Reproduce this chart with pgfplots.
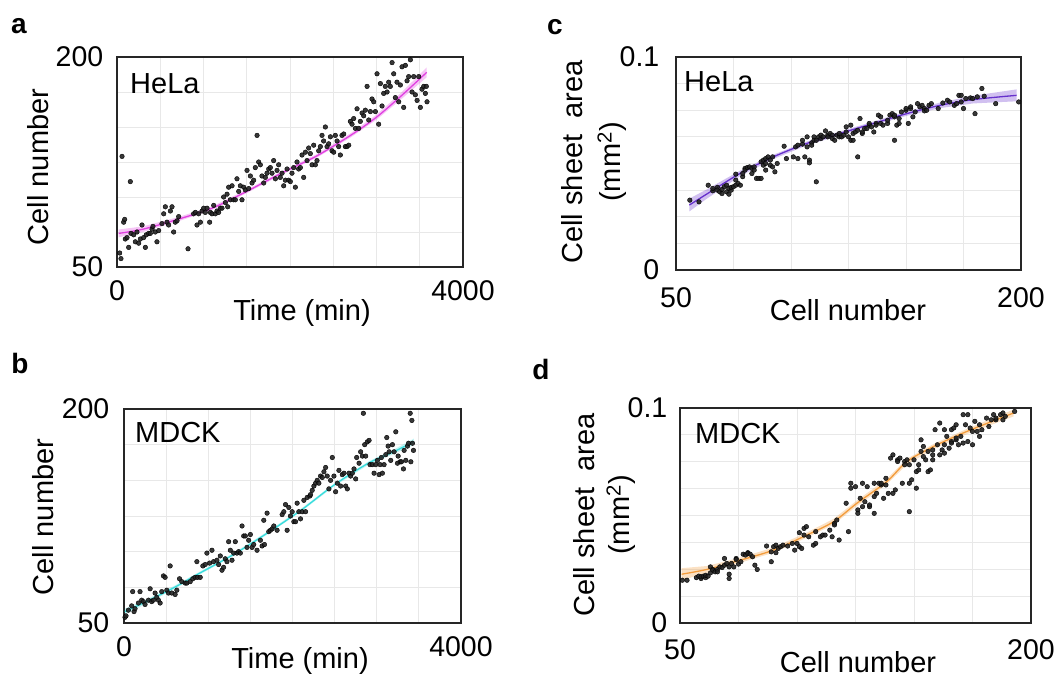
\documentclass[border=0pt]{standalone}
\usepackage{fontspec}
\setmainfont{Liberation Sans}
\usepackage{pgfplots}
\pgfplotsset{compat=1.18}

\definecolor{gridgray}{HTML}{E8E8E8}
\definecolor{dotgray}{HTML}{222222}
\definecolor{helaA}{HTML}{E040E0}
\definecolor{mdckB}{HTML}{38DCDC}
\definecolor{helaC}{HTML}{6630CC}
\definecolor{mdckD}{HTML}{F39C3C}

\newcommand\lbl{\fontsize{29bp}{35bp}\selectfont}

\pgfplotsset{
  panel/.style={
    scale only axis,
    anchor=south west,
    axis line style={line width=1.4bp, black!85},
    major tick length=0pt,
    minor tick length=0pt,
    grid=minor,
    minor grid style={line width=0.8bp, draw=gridgray},
    ticklabel style={font=\fontsize{28.5bp}{34bp}\selectfont, text=black, inner sep=0pt},
  },
  dots/.style={only marks, mark=*, mark size=2.3bp,
    mark options={draw=none, fill=dotgray, fill opacity=0.9}},
  band/.style={draw=none, fill=#1, fill opacity=0.3},
  fit/.style={smooth, line width=1.3bp, draw=#1},
}

\begin{document}
\begin{tikzpicture}
\path[use as bounding box] (0bp,0bp) rectangle (1058bp,678bp);

% ---- a: HeLa, cell number over time
\begin{axis}[panel, at={(117bp,411bp)}, width=346bp, height=210bp,
  xmin=0, xmax=4000, ymin=50, ymax=200,
  xtick={0,4000}, xticklabels={0,4000},
  ytick={50,200}, yticklabels={50,200},
  minor xtick={500,1000,...,3500}, minor ytick={75,100,...,175},
  xticklabel style={yshift=-13.5bp}, yticklabel style={xshift=-13.5bp}]
\addplot[dots] coordinates {
(31,60) (46,56) (58,129) (77,82) (89,84) (154,111) (96,70) (116,71) (135,64) (162,74)
(193,73) (212,68) (231,75) (251,67) (270,70) (289,80) (308,71) (328,64) (339,73) (366,74)
(385,74) (405,77) (416,79) (443,75) (462,68) (482,76) (520,81) (540,88) (559,93) (578,82)
(597,80) (617,90) (636,93) (655,75) (674,82) (694,83) (713,86) (821,63) (886,88) (906,89)
(925,80) (944,88) (964,82) (983,90) (1002,92) (1021,89) (1041,92) (1071,82) (1079,89) (1098,88)
(1118,94) (1137,88) (1156,90) (1175,89) (1195,92) (1214,92) (1233,100) (1253,96) (1272,102) (1280,93)
(1291,107) (1310,98) (1330,108) (1349,98) (1368,98) (1387,113) (1407,104) (1426,108) (1445,98) (1465,107)
(1484,105) (1503,119) (1522,106) (1542,115) (1561,110) (1580,112) (1599,121) (1619,144) (1638,125) (1657,123)
(1676,115) (1696,110) (1715,114) (1734,117) (1754,120) (1773,121) (1792,117) (1811,126) (1831,113) (1850,119)
(1869,123) (1888,114) (1908,117) (1927,108) (1946,112) (1966,120) (1985,112) (2004,111) (2023,117) (2043,121)
(2062,107) (2081,125) (2100,120) (2120,121) (2139,130) (2158,114) (2178,132) (2197,126) (2216,135) (2235,131)
(2255,123) (2274,137) (2293,123) (2312,126) (2332,133) (2351,136) (2370,144) (2389,140) (2409,150) (2428,136)
(2447,138) (2467,143) (2486,133) (2505,132) (2524,144) (2544,140) (2563,136) (2582,130) (2601,144) (2621,145)
(2640,136) (2659,136) (2679,137) (2698,154) (2717,152) (2736,156) (2756,149) (2775,163) (2794,149) (2813,154)
(2833,160) (2852,158) (2871,162) (2891,179) (2910,155) (2929,161) (2948,170) (2968,168) (2987,161) (3006,188)
(3025,152) (3045,181) (3064,165) (3083,174) (3102,179) (3122,175) (3141,182) (3160,179) (3180,196) (3199,188)
(3218,171) (3237,182) (3257,168) (3276,180) (3295,193) (3314,164) (3334,194) (3353,183) (3372,186) (3392,198)
(3411,175) (3430,186) (3449,173) (3469,169) (3488,186) (3507,164) (3526,177) (3546,179) (3565,174) (3576,179)
(3584,168)};
\addplot[band=helaA] coordinates {
(20,76.8) (300,79) (700,85.5) (1100,93.3) (1500,105.2) (1900,118.2) (2300,130.3) (2700,145.5) (3000,158.8) (3300,175.4) (3580,192.5)
(3580,185.5) (3300,170.6) (3000,155.2) (2700,142.5) (2300,127.7) (1900,115.8) (1500,102.8) (1100,90.7) (700,82.5) (300,75) (20,71.2)} -- cycle;
\addplot[fit=helaA] coordinates {
(20,74) (300,77) (700,84) (1100,92) (1500,104) (1900,117) (2300,129) (2700,144) (3000,157) (3300,173) (3580,189)};
\end{axis}

% ---- b: MDCK, cell number over time
\begin{axis}[panel, at={(124bp,55bp)}, width=337bp, height=214bp,
  xmin=0, xmax=4000, ymin=50, ymax=200,
  xtick={0,4000}, xticklabels={0,4000},
  ytick={50,200}, yticklabels={50,200},
  minor xtick={500,1000,...,3500}, minor ytick={75,100,...,175},
  xticklabel style={yshift=-13.5bp}, yticklabel style={xshift=-14.5bp}]
\addplot[dots] coordinates {
(12,54) (24,55) (52,59) (91,62) (103,72) (119,58) (131,60) (171,64) (190,72) (210,66)
(230,65) (250,63) (290,66) (310,74) (329,65) (349,66) (369,71) (389,68) (409,66) (429,64)
(448,72) (468,83) (488,82) (508,73) (528,71) (548,90) (567,71) (607,70) (627,73) (659,81)
(686,79) (726,78) (746,78) (786,79) (817,81) (845,82) (873,82) (905,82) (865,93) (936,90)
(964,91) (984,99) (1016,92) (1044,101) (1063,93) (1103,94) (1123,91) (1143,97) (1163,87) (1182,89)
(1202,95) (1222,93) (1242,107) (1262,101) (1282,94) (1302,99) (1321,107) (1341,99) (1361,100) (1381,99)
(1401,118) (1421,111) (1440,111) (1460,103) (1480,108) (1500,112) (1520,103) (1540,105) (1579,101) (1619,108)
(1639,104) (1659,122) (1667,105) (1698,127) (1718,114) (1738,115) (1758,116) (1778,118) (1817,115) (1877,126)
(1897,128) (1917,133) (1936,115) (1956,131) (1976,125) (1996,128) (2016,121) (2036,121) (2055,134) (2075,128)
(2095,123) (2115,128) (2135,136) (2155,128) (2174,138) (2206,139) (2214,140) (2234,143) (2254,146) (2274,148)
(2293,150) (2313,148) (2333,153) (2353,152) (2373,156) (2393,159) (2412,153) (2432,144) (2452,150) (2472,166)
(2492,153) (2512,142) (2532,148) (2551,157) (2571,146) (2591,154) (2611,155) (2631,146) (2651,144) (2670,155)
(2690,153) (2710,155) (2730,158) (2750,151) (2762,166) (2790,162) (2809,170) (2829,167) (2841,197) (2857,175)
(2869,167) (2889,177) (2909,178) (2920,161) (2948,161) (2968,155) (2988,161) (3008,164) (3028,154) (3040,161)
(3055,166) (3067,155) (3087,161) (3107,168) (3119,180) (3135,174) (3147,170) (3166,164) (3186,175) (3206,170)
(3226,184) (3246,162) (3254,167) (3278,163) (3293,163) (3317,158) (3325,171) (3345,164) (3365,174) (3377,176)
(3397,197) (3405,163) (3417,192) (3424,176) (3436,171)};
\addplot[band=mdckB] coordinates {
(10,60) (300,67.5) (600,76.2) (900,86) (1300,99) (1700,114) (2100,130) (2500,148) (2900,163.2) (3200,171.5) (3440,179.2)
(3440,174.8) (3200,168.5) (2900,160.8) (2500,146) (2100,128) (1700,112) (1300,97) (900,84) (600,73.8) (300,64.5) (10,56)} -- cycle;
\addplot[fit=mdckB] coordinates {
(10,58) (300,66) (600,75) (900,85) (1300,98) (1700,113) (2100,129) (2500,147) (2900,162) (3200,170) (3440,177)};
\end{axis}

% ---- c: HeLa, sheet area against cell number
\begin{axis}[panel, at={(676bp,408bp)}, width=345bp, height=213bp,
  xmin=50, xmax=200, ymin=0, ymax=0.1,
  xtick={50,200}, xticklabels={50,200},
  ytick={0,0.1}, yticklabels={0,0.1},
  minor xtick={75,100,...,175}, minor ytick={0.0125,0.025,...,0.0875},
  xticklabel style={yshift=-17.5bp}, yticklabel style={xshift=-16.5bp}]
\addplot[dots] coordinates {
(56,0.0328) (60,0.0320) (64,0.0398) (66,0.0372) (66,0.0383) (68,0.0388) (68,0.0375) (69,0.0367) (70,0.0359) (70,0.0378)
(71,0.0391) (72,0.0367) (72,0.0398) (73,0.0356) (73,0.0383) (74,0.0375) (74,0.0388) (75,0.0391) (76,0.0398) (76,0.0422)
(77,0.0406) (76,0.0450) (78,0.0398) (79,0.0438) (79,0.0453) (80,0.0477) (80,0.0469) (81,0.0481) (82,0.0484) (83,0.0453)
(83,0.0477) (84,0.0484) (84,0.0469) (85,0.0430) (86,0.0430) (87,0.0430) (87,0.0508) (88,0.0516) (88,0.0492) (89,0.0523)
(89,0.0469) (89,0.0500) (90,0.0531) (91,0.0492) (91,0.0516) (92,0.0484) (92,0.0531) (93,0.0461) (94,0.0500) (97,0.0581)
(98,0.0523) (101,0.0531) (102,0.0578) (103,0.0523) (103,0.0586) (105,0.0591) (105,0.0609) (106,0.0531) (107,0.0578) (107,0.0625)
(108,0.0516) (108,0.0503) (109,0.0597) (109,0.0586) (110,0.0625) (110,0.0609) (111,0.0414) (111,0.0609) (112,0.0625) (113,0.0617)
(113,0.0633) (114,0.0625) (115,0.0653) (116,0.0633) (116,0.0625) (117,0.0641) (118,0.0633) (118,0.0617) (119,0.0609) (120,0.0633)
(121,0.0625) (121,0.0641) (122,0.0625) (123,0.0633) (124,0.0672) (124,0.0648) (125,0.0625) (126,0.0609) (126,0.0680) (127,0.0641)
(127,0.0609) (128,0.0648) (129,0.0656) (129,0.0531) (130,0.0711) (131,0.0641) (131,0.0648) (132,0.0664) (133,0.0664) (134,0.0680)
(134,0.0688) (135,0.0672) (136,0.0648) (137,0.0688) (137,0.0680) (138,0.0727) (139,0.0719) (139,0.0688) (140,0.0680) (142,0.0688)
(142,0.0703) (143,0.0727) (144,0.0734) (145,0.0719) (145,0.0727) (145,0.0609) (146,0.0680) (147,0.0711) (147,0.0688) (148,0.0742)
(150,0.0750) (150,0.0758) (151,0.0688) (152,0.0758) (152,0.0766) (153,0.0719) (154,0.0742) (155,0.0781) (156,0.0766) (157,0.0773)
(158,0.0758) (158,0.0747) (159,0.0750) (160,0.0773) (161,0.0781) (164,0.0758) (166,0.0784) (168,0.0797) (169,0.0789) (171,0.0773)
(172,0.0781) (173,0.0820) (174,0.0820) (174,0.0789) (175,0.0758) (176,0.0805) (178,0.0808) (179,0.0805) (180,0.0734) (181,0.0813)
(183,0.0852) (184,0.0816) (189,0.0781) (199,0.0789)};
\addplot[band=helaC] coordinates {
(55.8,0.0335) (63.3,0.0378) (77.8,0.0466) (92.3,0.0541) (106.8,0.0603) (121.3,0.0650) (135.8,0.0697) (150.3,0.0744) (164.8,0.0786) (179.2,0.0818) (198.1,0.0848)
(198.1,0.0792) (179.2,0.0782) (164.8,0.0760) (150.3,0.0724) (135.8,0.0679) (121.3,0.0632) (106.8,0.0585) (92.3,0.0521) (77.8,0.0440) (63.3,0.0334) (55.8,0.0275)} -- cycle;
\addplot[fit=helaC] coordinates {
(55.8,0.0305) (63.3,0.0356) (77.8,0.0453) (92.3,0.0531) (106.8,0.0594) (121.3,0.0641) (135.8,0.0688) (150.3,0.0734) (164.8,0.0773) (179.2,0.0800) (198.1,0.0820)};
\end{axis}

% ---- d: MDCK, sheet area against cell number
\begin{axis}[panel, at={(680bp,55bp)}, width=351bp, height=215bp,
  xmin=50, xmax=200, ymin=0, ymax=0.1,
  xtick={50,200}, xticklabels={50,200},
  ytick={0,0.1}, yticklabels={0,0.1},
  minor xtick={75,100,...,175}, minor ytick={0.0125,0.025,...,0.0875},
  xticklabel style={yshift=-16.5bp}, yticklabel style={xshift=-12.5bp}]
\addplot[dots] coordinates {
(51,0.0199) (53,0.0199) (57,0.0211) (58,0.0218) (59,0.0207) (59,0.0215) (60,0.0218) (61,0.0211) (61,0.0222) (62,0.0218)
(63,0.0233) (63,0.0261) (64,0.0249) (64,0.0246) (65,0.0238) (66,0.0249) (66,0.0238) (67,0.0261) (68,0.0258) (69,0.0269)
(69,0.0300) (70,0.0277) (71,0.0261) (71,0.0207) (71,0.0227) (72,0.0277) (73,0.0261) (74,0.0300) (74,0.0295) (75,0.0274)
(76,0.0285) (77,0.0320) (78,0.0316) (79,0.0327) (79,0.0323) (80,0.0320) (81,0.0308) (82,0.0269) (83,0.0249) (87,0.0358)
(89,0.0285) (89,0.0331) (90,0.0355) (91,0.0362) (91,0.0327) (92,0.0347) (93,0.0355) (94,0.0362) (96,0.0358) (98,0.0370)
(99,0.0339) (100,0.0370) (101,0.0355) (101,0.0420) (102,0.0347) (103,0.0409) (103,0.0440) (104,0.0448) (105,0.0401) (107,0.0362)
(108,0.0370) (108,0.0425) (110,0.0401) (111,0.0409) (112,0.0409) (114,0.0432) (115,0.0401) (116,0.0463) (116,0.0456) (117,0.0479)
(118,0.0386) (121,0.0557) (122,0.0425) (123,0.0650) (123,0.0627) (125,0.0634) (126,0.0526) (126,0.0510) (127,0.0580) (128,0.0650)
(128,0.0541) (129,0.0564) (130,0.0634) (131,0.0541) (131,0.0549) (133,0.0510) (133,0.0650) (133,0.0588) (134,0.0603) (135,0.0650)
(136,0.0642) (136,0.0650) (137,0.0580) (138,0.0673) (138,0.0642) (139,0.0603) (140,0.0767) (141,0.0603) (141,0.0782) (142,0.0619)
(143,0.0759) (143,0.0751) (144,0.0767) (145,0.0650) (146,0.0751) (146,0.0736) (147,0.0759) (148,0.0518) (148,0.0650) (148,0.0736)
(149,0.0666) (150,0.0759) (151,0.0627) (151,0.0704) (152,0.0736) (152,0.0712) (153,0.0852) (153,0.0798) (154,0.0821) (155,0.0759)
(156,0.0704) (156,0.0798) (157,0.0712) (158,0.0805) (158,0.0782) (159,0.0899) (160,0.0829) (161,0.0782) (161,0.0930) (162,0.0805)
(163,0.0899) (163,0.0790) (164,0.0868) (165,0.0813) (166,0.0899) (166,0.0844) (167,0.0907) (168,0.0852) (168,0.0922) (169,0.0829)
(170,0.0868) (171,0.0969) (171,0.0837) (172,0.0922) (173,0.0969) (173,0.0844) (174,0.0907) (175,0.0891) (175,0.0829) (176,0.0938)
(177,0.0891) (178,0.0922) (178,0.0868) (179,0.0899) (181,0.0953) (182,0.0914) (183,0.0945) (184,0.0969) (185,0.0945) (185,0.0953)
(187,0.0969) (188,0.0977) (188,0.0945) (189,0.0961) (193,0.0984) (163,0.0829) (166,0.0837) (168,0.0860) (158,0.0759) (154,0.0774)};
\addplot[band=mdckD] coordinates {
(50.7,0.0255) (61.4,0.0265) (75.7,0.0304) (89.9,0.0351) (104.2,0.0421) (115.6,0.0484) (125.6,0.0570) (138.4,0.0671) (147.0,0.0764) (158.4,0.0833) (172.6,0.0903) (192.6,0.0993)
(192.6,0.0961) (172.6,0.0879) (158.4,0.0809) (147.0,0.0738) (138.4,0.0645) (125.6,0.0544) (115.6,0.0458) (104.2,0.0397) (89.9,0.0327) (75.7,0.0280) (61.4,0.0233) (50.7,0.0199)} -- cycle;
\addplot[fit=mdckD] coordinates {
(50.7,0.0227) (61.4,0.0249) (75.7,0.0292) (89.9,0.0339) (104.2,0.0409) (115.6,0.0471) (125.6,0.0557) (138.4,0.0658) (147.0,0.0751) (158.4,0.0821) (172.6,0.0891) (192.6,0.0977)};
\end{axis}

% panel letters
\node[font=\fontsize{28bp}{34bp}\selectfont\bfseries] at (19bp,652bp) {a};
\node[font=\fontsize{28bp}{34bp}\selectfont\bfseries] at (20bp,315bp) {b};
\node[font=\fontsize{28bp}{34bp}\selectfont\bfseries] at (555bp,651bp) {c};
\node[font=\fontsize{28bp}{34bp}\selectfont\bfseries] at (541bp,309bp) {d};

% cell line names
\node[font=\lbl, anchor=west, inner sep=0pt] at (130bp,594bp) {HeLa};
\node[font=\lbl, anchor=west, inner sep=0pt] at (135bp,245bp) {MDCK};
\node[font=\lbl, anchor=west, inner sep=0pt] at (684bp,596bp) {HeLa};
\node[font=\lbl, anchor=west, inner sep=0pt] at (695bp,244bp) {MDCK};

% axis titles
\tikzset{ttl/.style={font=\lbl, inner sep=0pt}}
\node[ttl] at (302bp,365bp) {Time (min)};
\node[ttl, rotate=90] at (38bp,511bp) {Cell number};
\node[ttl] at (300bp,17bp) {Time (min)};
\node[ttl, rotate=90] at (43bp,161bp) {Cell number};
\node[ttl] at (848bp,368bp) {Cell number};
\node[ttl, rotate=90] at (572bp,516bp) {Cell sheet\ \ area};
\node[ttl, rotate=90] at (612bp,516bp) {(mm\textsuperscript{2})};
\node[ttl] at (858bp,16bp) {Cell number};
\node[ttl, rotate=90] at (584bp,163bp) {Cell sheet\ \ area};
\node[ttl, rotate=90] at (621bp,163bp) {(mm\textsuperscript{2})};
\end{tikzpicture}
\end{document}
